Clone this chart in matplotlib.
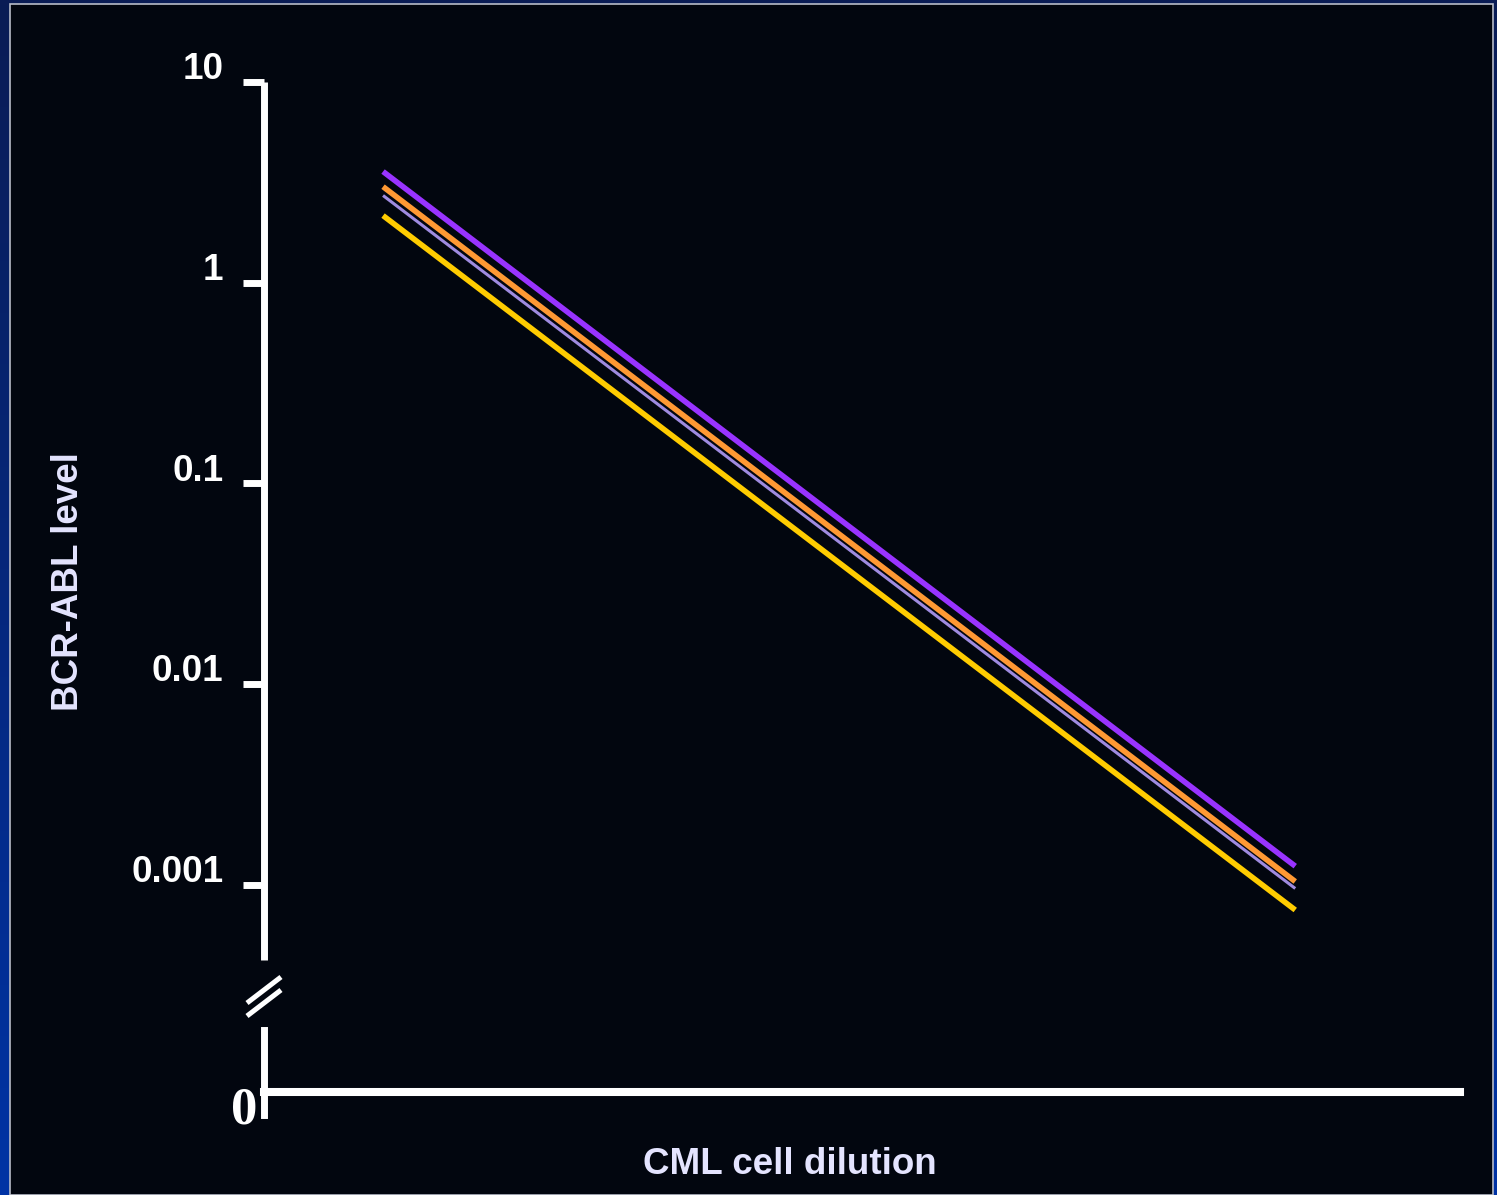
import numpy as np
import matplotlib
matplotlib.use("Agg")
import matplotlib.pyplot as plt
from matplotlib.lines import Line2D
from matplotlib.patches import Rectangle

# ---------------- data ----------------
dilution_steps = [1, 9]
purple_series = [3.58, 0.00124]
orange_series = [3.01, 0.00104]
lavender_series = [2.72, 0.00096]
yellow_series = [2.16, 0.00075]
ytick_values = [10, 1, 0.1, 0.01, 0.001]
ytick_labels = ["10", "1", "0.1", "0.01", "0.001"]
zero_label = "0"
x_label = "CML cell dilution"
y_label = "BCR-ABL level"

W, H = 1497, 1195
fig = plt.figure(figsize=(W / 100, H / 100), dpi=100)

def fx(px):
    return px / W

def fy(py):
    return 1 - py / H

# ---------------- background ----------------
bg = fig.add_axes([0, 0, 1, 1])
bg.set_axis_off()
grad = np.linspace(0, 1, 256)[:, None]
top = np.array([10, 28, 85]) / 255
bot = np.array([0, 51, 165]) / 255
img = top[None, None, :] * (1 - grad[:, :, None]) + bot[None, None, :] * grad[:, :, None]
bg.imshow(img, aspect="auto", extent=[0, 1, 0, 1], origin="upper")
bg.set_xlim(0, 1)
bg.set_ylim(0, 1)
bg.add_patch(Rectangle((fx(9.5), 0), fx(1493) - fx(9.5), fy(3.5),
                       facecolor="#02060f", edgecolor="#b8bcc8", linewidth=1.2))

FONT = "Liberation Sans"
LABEL_COLOR = "#e4e4ff"

# ---------------- main (log) axes ----------------
left_px, right_px = 264, 1464
top_px, bottom_px = 82, 960
px_per_dec = 200.5
ymax = 10
ymin = 10 ** (-3 - (bottom_px - 885) / px_per_dec)

ax = fig.add_axes([fx(left_px), fy(bottom_px), fx(right_px) - fx(left_px),
                   fy(top_px) - fy(bottom_px)])
ax.set_facecolor("none")
ax.set_yscale("log")
ax.set_ylim(ymin, ymax)
ax.set_xlim(-0.044, 10.48)
for s in ["top", "right", "bottom"]:
    ax.spines[s].set_visible(False)
ax.spines["left"].set_color("white")
ax.spines["left"].set_linewidth(5.0)
ax.spines["left"].set_capstyle("butt")
ax.set_xticks([])
ax.set_yticks(ytick_values)
ax.yaxis.set_minor_locator(matplotlib.ticker.NullLocator())
ax.set_yticklabels([])
ax.tick_params(axis="y", which="major", length=15, width=5, color="white",
               direction="out")

for val, lab in zip(ytick_values, ytick_labels):
    ax.annotate(lab, xy=(-0.034, val), xycoords=ax.get_yaxis_transform(),
                xytext=(0, 2), textcoords="offset points",
                ha="right", va="baseline", fontsize=26.5, fontweight="bold",
                color="white", family=FONT)

ax.plot(dilution_steps, lavender_series, color="#9f8be0", lw=2.2,
        solid_capstyle="butt", zorder=2)
ax.plot(dilution_steps, orange_series, color="#ff9933", lw=4.0,
        solid_capstyle="butt", zorder=3)
ax.plot(dilution_steps, purple_series, color="#9933ff", lw=4.0,
        solid_capstyle="butt", zorder=3)
ax.plot(dilution_steps, yellow_series, color="#ffcc00", lw=4.0,
        solid_capstyle="butt", zorder=3)

# ---------------- lower (zero) axes ----------------
low_top, low_bot = 1030, 1115
ax2 = fig.add_axes([fx(left_px), fy(low_bot), fx(1460) - fx(left_px),
                    fy(low_top) - fy(low_bot)])
ax2.set_facecolor("none")
ax2.set_ylim(-0.27, 0.73)
ax2.set_xlim(0, 1)
for s in ["top", "right"]:
    ax2.spines[s].set_visible(False)
ax2.spines["bottom"].set_position(("data", 0))
ax2.spines["bottom"].set_color("white")
ax2.spines["bottom"].set_linewidth(5.8)
ax2.spines["left"].set_color("white")
ax2.spines["left"].set_linewidth(5.0)
ax2.set_xticks([])
ax2.set_yticks([])
ax2.text(fx(244), fy(1111), zero_label, transform=fig.transFigure,
         ha="center", va="center", fontsize=38, fontweight="bold",
         color="white", family="Liberation Serif")

# ---------------- axis break marks ----------------
for dy in (0, 13):
    fig.add_artist(Line2D([fx(247), fx(281)], [fy(1003 + dy), fy(977 + dy)],
                          color="white", lw=3.6, solid_capstyle="butt"))

# ---------------- axis titles ----------------
fig.text(fx(790), fy(1165), x_label, ha="center", va="center", fontsize=26.5,
         fontweight="bold", color=LABEL_COLOR, family=FONT)
fig.text(fx(69), fy(582), y_label, ha="center", va="center", fontsize=26.5,
         fontweight="bold", color=LABEL_COLOR, family=FONT, rotation=90)

fig.savefig("out.png", dpi=100)
